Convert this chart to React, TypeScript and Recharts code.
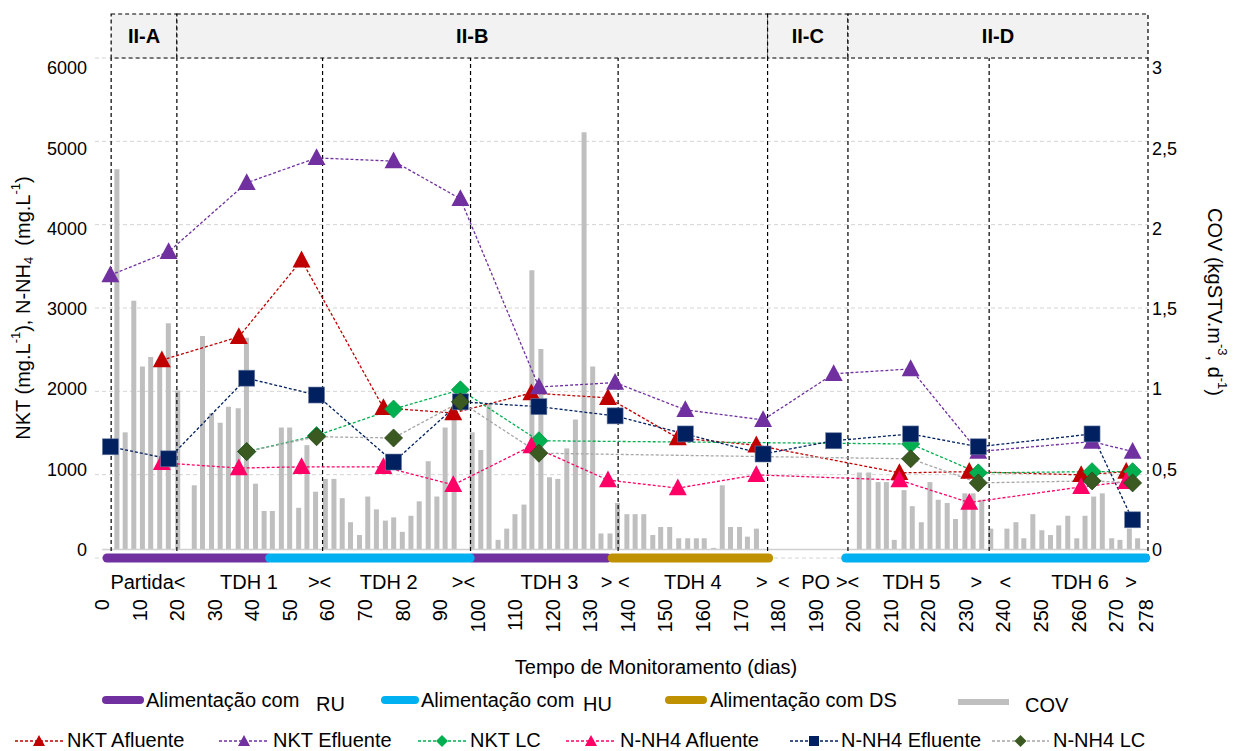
import React from 'react';
import {
  ComposedChart,
  Bar,
  Line,
  XAxis,
  YAxis,
  CartesianGrid,
  ReferenceLine,
  ReferenceArea,
} from 'recharts';

const FONT = '"Liberation Sans", Arial, Helvetica, sans-serif';

// ---------- data ----------
const DAYS_EFF = [2.2, 17.7, 38.5, 57.1, 77.6, 95.4, 116.3, 136.6, 155.3, 176.0, 194.8, 215.3, 233.3, 263.6, 274.4];
const NKT_EFLUENTE = [3420, 3710, 4570, 4880, 4840, 4370, 2025, 2080, 1740, 1615, 2190, 2250, 1220, 1345, 1220];
const NNH4_EFLUENTE = [1280, 1130, 2135, 1925, 1090, 1840, 1780, 1665, 1440, 1190, 1355, 1440, 1280, 1440, 370];

const DAYS_AF = [15.9, 36.4, 53.1, 74.9, 93.5, 114.3, 134.7, 153.3, 174.2, 212.3, 230.9, 260.7, 272.7];
const NKT_AFLUENTE = [2360, 2650, 3605, 1765, 1700, 1950, 1890, 1390, 1300, 955, 970, 930, 970];
const NNH4_AFLUENTE = [1080, 1015, 1030, 1030, 805, 1290, 865, 765, 930, 865, 585, 780, 845];

const DAYS_LC = [38.5, 57.1, 77.6, 95.4, 116.3, 215.3, 233.3, 263.6, 274.4];
const NKT_LC = [1220, 1420, 1750, 1990, 1355, 1315, 955, 970, 970];
const NNH4_LC = [1220, 1405, 1390, 1840, 1200, 1130, 830, 855, 830];

const COV_DAYS = [
  4.0, 6.2, 8.5, 10.8, 13.0, 15.4, 17.7, 20.2, 24.6, 26.8, 29.2, 31.5, 33.7, 36.3, 38.5, 40.9, 43.2, 45.4,
  47.8, 50.0, 52.4, 54.6, 56.9, 59.5, 61.8, 64.0, 66.2, 68.6, 70.8, 73.1, 75.5, 77.7, 80.0, 82.3, 84.5,
  86.9, 89.2, 91.4, 93.8, 98.6, 100.9, 103.1, 105.5, 107.8, 110.0, 112.4, 114.5, 116.9, 119.2, 121.4,
  123.8, 126.1, 128.4, 130.7, 132.9, 135.3, 137.3, 139.8, 142.0, 144.3, 146.7, 148.8, 151.2, 153.6,
  156.0, 158.3, 160.4, 162.9, 165.2, 167.4, 169.8, 171.9, 174.3, 201.7, 204.2, 206.7, 208.9, 211.0,
  213.6, 215.8, 218.2, 220.5, 222.7, 225.1, 227.3, 229.8, 232.0, 234.3, 236.7, 241.0, 243.4, 245.5,
  247.9, 250.3, 252.6, 254.8, 257.2, 259.6, 261.8, 264.1, 266.4, 268.9, 271.1, 273.6, 275.8,
];
const COV_VALUES = [
  2.37, 0.73, 1.55, 1.14, 1.2, 1.15, 1.41, 0.99, 0.4, 1.33, 0.85, 0.79, 0.89, 0.88, 1.32, 0.41, 0.24, 0.24,
  0.76, 0.76, 0.26, 0.65, 0.36, 0.44, 0.44, 0.32, 0.17, 0.09, 0.33, 0.25, 0.18, 0.2, 0.11, 0.21, 0.3,
  0.55, 0.33, 0.76, 0.85, 0.73, 0.62, 0.91, 0.06, 0.13, 0.22, 0.28, 1.74, 1.25, 0.45, 0.44,
  0.63, 0.81, 2.6, 1.14, 0.1, 0.1, 0.29, 0.22, 0.22, 0.22, 0.09, 0.14, 0.14, 0.07,
  0.07, 0.07, 0.07, 0.01, 0.4, 0.14, 0.14, 0.08, 0.13, 0.48, 0.48, 0.42, 0.42, 0.06,
  0.37, 0.27, 0.17, 0.42, 0.31, 0.29, 0.19, 0.35, 0.35, 0.31, 0.13, 0.13, 0.17, 0.07,
  0.22, 0.12, 0.09, 0.15, 0.21, 0.07, 0.21, 0.33, 0.35, 0.07, 0.06, 0.13, 0.07,
];

const DAY_TICKS = [0, 10, 20, 30, 40, 50, 60, 70, 80, 90, 100, 110, 120, 130, 140, 150, 160, 170, 180, 190, 200, 210, 220, 230, 240, 250, 260, 270, 278];
const LEFT_TICKS = [0, 1000, 2000, 3000, 4000, 5000, 6000];
const RIGHT_TICKS = [0, 0.5, 1, 1.5, 2, 2.5, 3];

const PHASE_DAYS = [12.2, 39.1, 57.9, 76.3, 96.2, 119.1, 136.6, 157.3, 175.7, 181.5, 190.0, 198.5, 215.5, 232.8, 240.5, 260.4, 274.0];
const PHASE_LABELS = ['Partida<', 'TDH 1', '><', 'TDH 2', '><', 'TDH 3', '> <', 'TDH 4', '>', '<', 'PO', '><', 'TDH 5', '>', '<', 'TDH 6', '>'];

const STAGE_BOUNDS = [2.4, 19.9, 177.2, 198.6, 278.5];
const STAGE_LABELS = ['II-A', 'II-B', 'II-C', 'II-D'];
const DIVIDER_DAYS = [2.4, 19.9, 58.7, 98.1, 137.4, 177.2, 198.6, 236.2, 278.5];

// feed periods: [start, end]
const FEED_RU = [[1.3, 44.0], [98.6, 134.5]];
const FEED_HU = [[44.6, 98.0], [198.0, 277.9]];
const FEED_DS = [[135.8, 177.5]];

const X_DOMAIN = [-1.9, 278.5];

// ---------- helpers ----------
const rows = (days: number[], vals: number[]) => days.map((day, i) => ({ day, v: vals[i] }));
const covRows = COV_DAYS.map((day, i) => ({ day, cov: COV_VALUES[i] }));

const C_RED = '#C00000';
const C_PURPLE = '#7030A0';
const C_GREEN = '#00B050';
const C_PINK = '#FF0066';
const C_NAVY = '#002060';
const C_DKGREEN = '#3A5A22';
const C_GRAYLINE = '#A6A6A6';
const C_BAR = '#BFBFBF';

const X_PHASE = 'a_phase';
const X_DAY = 'b_day';
const X_BAR = 'c_bar';

const triangle = (color: string, s: number) => (p: any) => {
  const { cx, cy, index } = p;
  if (cx == null || cy == null) return <g key={`t${index}`} />;
  return (
    <polygon
      key={`t${index}`}
      points={`${cx},${cy - s * 0.6} ${cx - s * 0.56},${cy + s * 0.45} ${cx + s * 0.56},${cy + s * 0.45}`}
      fill={color}
    />
  );
};
const square = (color: string, s: number) => (p: any) => {
  const { cx, cy, index } = p;
  if (cx == null || cy == null) return <g key={`s${index}`} />;
  return <rect key={`s${index}`} x={cx - s / 2} y={cy - s / 2} width={s} height={s} fill={color} stroke="#6f7fa3" strokeWidth={0.6} />;
};
const diamond = (color: string, stroke: string, s: number) => (p: any) => {
  const { cx, cy, index } = p;
  if (cx == null || cy == null) return <g key={`d${index}`} />;
  return (
    <polygon
      key={`d${index}`}
      points={`${cx},${cy - s} ${cx + s},${cy} ${cx},${cy + s} ${cx - s},${cy}`}
      fill={color}
      stroke={stroke}
      strokeWidth={0.8}
    />
  );
};

const DayTick = (props: any) => {
  const { x, y, payload } = props;
  return (
    <text
      x={x}
      y={y}
      transform={`rotate(-90 ${x} ${y})`}
      textAnchor="end"
      dominantBaseline="central"
      fontSize={20}
      fill="#000"
    >
      {payload.value}
    </text>
  );
};

const PhaseTick = (props: any) => {
  const { x, y, payload } = props;
  const idx = PHASE_DAYS.indexOf(payload.value);
  return (
    <text x={x} y={y + 23} textAnchor="middle" fontSize={20} fill="#000">
      {idx >= 0 ? PHASE_LABELS[idx] : ''}
    </text>
  );
};

const HeaderLabel = (props: any) => {
  const { viewBox, text } = props;
  if (!viewBox) return null;
  const { x, y, width, height } = viewBox;
  return (
    <text
      x={x + width / 2}
      y={y + height / 2}
      textAnchor="middle"
      dominantBaseline="central"
      fontSize={20}
      fontWeight="bold"
      fill="#000"
    >
      {text}
    </text>
  );
};

const dashProps = { strokeDasharray: '3 2', strokeWidth: 1.3 };

// ---------- legend overlay ----------
const LegendOverlay = () => {
  const row1y = 700;
  const row2y = 741;
  const tb1 = 707;
  const tb2 = 747;
  const legTri = (cx: number, cy: number, color: string) => (
    <polygon points={`${cx},${cy - 6} ${cx - 6},${cy + 5} ${cx + 6},${cy + 5}`} fill={color} />
  );
  const legSeries = [
    { x1: 15, x2: 63, color: C_RED, mark: 'tri', mc: C_RED, text: 'NKT Afluente', tx: 67 },
    { x1: 219, x2: 269, color: C_PURPLE, mark: 'tri', mc: C_PURPLE, text: 'NKT Efluente', tx: 273 },
    { x1: 418, x2: 466, color: C_GREEN, mark: 'dia', mc: C_GREEN, text: 'NKT LC', tx: 470 },
    { x1: 566, x2: 616, color: C_PINK, mark: 'tri', mc: C_PINK, text: 'N-NH4 Afluente', tx: 620 },
    { x1: 790, x2: 838, color: C_NAVY, mark: 'sq', mc: C_NAVY, text: 'N-NH4 Efluente', tx: 841 },
    { x1: 992, x2: 1049, color: C_GRAYLINE, mark: 'dia', mc: C_DKGREEN, text: 'N-NH4 LC', tx: 1053 },
  ];
  return (
    <svg
      width={1238}
      height={751}
      style={{ position: 'absolute', left: 0, top: 0, pointerEvents: 'none', fontFamily: FONT }}
    >
      {/* axis titles */}
      <text x={656} y={674} textAnchor="middle" fontSize={20} fill="#000">
        Tempo de Monitoramento (dias)
      </text>
      <text transform="translate(23,308) rotate(-90)" textAnchor="middle" dominantBaseline="central" fontSize={20} fill="#000">
        NKT (mg.L<tspan dy={-8} fontSize={13}>-1</tspan>
        <tspan dy={8}>), N-NH</tspan>
        <tspan dy={5} fontSize={13}>4</tspan>
        <tspan dy={-5}>{'\u00a0\u00a0'}(mg.L</tspan>
        <tspan dy={-8} fontSize={13}>-1</tspan>
        <tspan dy={8}>)</tspan>
      </text>
      <text transform="translate(1215,302) rotate(90)" textAnchor="middle" dominantBaseline="central" fontSize={20} fill="#000">
        COV (kgSTV.m<tspan dy={-8} fontSize={13}>-3</tspan>
        <tspan dy={8}>, d</tspan>
        <tspan dy={-8} fontSize={13}>-1</tspan>
        <tspan dy={8}>)</tspan>
      </text>

      {/* legend row 1 */}
      <line x1={106} x2={140} y1={row1y} y2={row1y} stroke={C_PURPLE} strokeWidth={8} strokeLinecap="round" />
      <text x={146} y={tb1} fontSize={20} fill="#000">Alimentação com</text>
      <text x={316} y={tb1 + 4} fontSize={20} fill="#000">RU</text>
      <line x1={385} x2={415} y1={row1y} y2={row1y} stroke="#00B0F0" strokeWidth={8} strokeLinecap="round" />
      <text x={421} y={tb1} fontSize={20} fill="#000">Alimentação com</text>
      <text x={583} y={tb1 + 4} fontSize={20} fill="#000">HU</text>
      <line x1={669} x2={703} y1={row1y} y2={row1y} stroke="#BF9000" strokeWidth={8} strokeLinecap="round" />
      <text x={710} y={tb1} fontSize={20} fill="#000">Alimentação com DS</text>
      <line x1={958} x2={1009} y1={row1y + 2} y2={row1y + 2} stroke={C_BAR} strokeWidth={6} />
      <text x={1025} y={tb1 + 5} fontSize={20} fill="#000">COV</text>

      {/* legend row 2 */}
      {legSeries.map((s, i) => {
        const cx = (s.x1 + s.x2) / 2;
        return (
          <g key={i}>
            <line x1={s.x1} x2={s.x2} y1={row2y} y2={row2y} stroke={s.color} {...dashProps} />
            {s.mark === 'tri' && legTri(cx, row2y, s.mc)}
            {s.mark === 'sq' && <rect x={cx - 5} y={row2y - 5} width={10} height={10} fill={s.mc} />}
            {s.mark === 'dia' && (
              <polygon points={`${cx},${row2y - 6} ${cx + 6},${row2y} ${cx},${row2y + 6} ${cx - 6},${row2y}`} fill={s.mc} />
            )}
            <text x={s.tx} y={tb2} fontSize={20} fill="#000">
              {s.text}
            </text>
          </g>
        );
      })}
    </svg>
  );
};

export default function App() {
  return (
    <div style={{ position: 'absolute', left: 0, top: 0, width: 1238, height: 751, background: '#fff', fontFamily: FONT }}>
      <ComposedChart width={1238} height={751} data={covRows} margin={{ top: 58, right: 30, bottom: 100, left: 35 }}>
        <CartesianGrid xAxisId={X_DAY} yAxisId="grid" vertical={false} stroke="#D4D4D4" strokeDasharray="4 3" />
        <XAxis
          xAxisId={X_DAY}
          dataKey="day"
          type="number"
          domain={X_DOMAIN}
          allowDataOverflow
          ticks={DAY_TICKS}
          interval={0}
          tick={<DayTick />}
          axisLine={false}
          tickLine={false}
          height={60}
        />
        <XAxis
          xAxisId={X_PHASE}
          dataKey="day"
          type="number"
          domain={X_DOMAIN}
          allowDataOverflow
          ticks={PHASE_DAYS}
          interval={0}
          tick={<PhaseTick />}
          axisLine={false}
          tickLine={false}
          height={33}
        />
        <XAxis xAxisId={X_BAR} dataKey="day" type="number" domain={X_DOMAIN} allowDataOverflow hide height={0} />
        <YAxis
          yAxisId="left"
          orientation="left"
          type="number"
          domain={[-106, 6125]}
          allowDataOverflow
          ticks={LEFT_TICKS}
          interval={0}
          axisLine={false}
          tickLine={false}
          width={60}
          tick={{ fontSize: 18, fill: '#000' }}
        />
        <YAxis
          yAxisId="right"
          orientation="right"
          type="number"
          domain={[-0.053, 3.0625]}
          allowDataOverflow
          ticks={RIGHT_TICKS}
          interval={0}
          axisLine={false}
          tickLine={false}
          tickSize={2}
          tickMargin={2}
          width={60}
          tick={{ fontSize: 18, fill: '#000' }}
          tickFormatter={(v: number) => String(v).replace('.', ',')}
        />
        <YAxis yAxisId="grid" hide width={0} type="number" domain={[0, 6000]} allowDataOverflow ticks={LEFT_TICKS} />

        {/* stage header */}
        {STAGE_LABELS.map((lab, i) => (
          <ReferenceArea
            key={lab}
            xAxisId={X_DAY}
            yAxisId="grid"
            x1={STAGE_BOUNDS[i]}
            x2={STAGE_BOUNDS[i + 1]}
            y1={6000}
            y2={6528}
            ifOverflow="visible"
            fill="#F2F2F2"
            fillOpacity={1}
            stroke="#000"
            strokeDasharray="4 3"
            strokeWidth={1.2}
            label={<HeaderLabel text={lab} />}
          />
        ))}

        <Bar xAxisId={X_BAR} yAxisId="right" dataKey="cov" fill={C_BAR} barSize={5} isAnimationActive={false} />

        <ReferenceLine
          xAxisId={X_DAY}
          yAxisId="right"
          segment={[{ x: 0, y: 0 }, { x: 278.5, y: 0 }]}
          stroke="#D0D0D0"
          strokeWidth={1.5}
        />

        {DIVIDER_DAYS.map((d) => (
          <ReferenceLine key={`v${d}`} xAxisId={X_DAY} yAxisId="grid" x={d} stroke="#000" strokeDasharray="4 3" strokeWidth={1.2} />
        ))}

        {FEED_RU.map((s, i) => (
          <ReferenceLine key={`ru${i}`} xAxisId={X_DAY} yAxisId="grid" segment={[{ x: s[0], y: 0 }, { x: s[1], y: 0 }]} stroke={C_PURPLE} strokeWidth={9} strokeLinecap="round" />
        ))}
        {FEED_HU.map((s, i) => (
          <ReferenceLine key={`hu${i}`} xAxisId={X_DAY} yAxisId="grid" segment={[{ x: s[0], y: 0 }, { x: s[1], y: 0 }]} stroke="#00B0F0" strokeWidth={9} strokeLinecap="round" />
        ))}
        {FEED_DS.map((s, i) => (
          <ReferenceLine key={`ds${i}`} xAxisId={X_DAY} yAxisId="grid" segment={[{ x: s[0], y: 0 }, { x: s[1], y: 0 }]} stroke="#BF9000" strokeWidth={9} strokeLinecap="round" />
        ))}

        <Line xAxisId={X_DAY} yAxisId="left" data={rows(DAYS_AF, NKT_AFLUENTE)} dataKey="v" stroke={C_RED} {...dashProps} dot={triangle(C_RED, 16)} activeDot={false} isAnimationActive={false} />
        <Line xAxisId={X_DAY} yAxisId="left" data={rows(DAYS_EFF, NKT_EFLUENTE)} dataKey="v" stroke={C_PURPLE} {...dashProps} dot={triangle(C_PURPLE, 16)} activeDot={false} isAnimationActive={false} />
        <Line xAxisId={X_DAY} yAxisId="left" data={rows(DAYS_LC, NKT_LC)} dataKey="v" stroke={C_GREEN} {...dashProps} dot={diamond(C_GREEN, '#00963f', 9)} activeDot={false} isAnimationActive={false} />
        <Line xAxisId={X_DAY} yAxisId="left" data={rows(DAYS_AF, NNH4_AFLUENTE)} dataKey="v" stroke={C_PINK} {...dashProps} dot={triangle(C_PINK, 16)} activeDot={false} isAnimationActive={false} />
        <Line xAxisId={X_DAY} yAxisId="left" data={rows(DAYS_EFF, NNH4_EFLUENTE)} dataKey="v" stroke={C_NAVY} {...dashProps} dot={square(C_NAVY, 16)} activeDot={false} isAnimationActive={false} />
        <Line xAxisId={X_DAY} yAxisId="left" data={rows(DAYS_LC, NNH4_LC)} dataKey="v" stroke={C_GRAYLINE} {...dashProps} dot={diamond(C_DKGREEN, '#2c4419', 9)} activeDot={false} isAnimationActive={false} />
      </ComposedChart>
      <LegendOverlay />
    </div>
  );
}
